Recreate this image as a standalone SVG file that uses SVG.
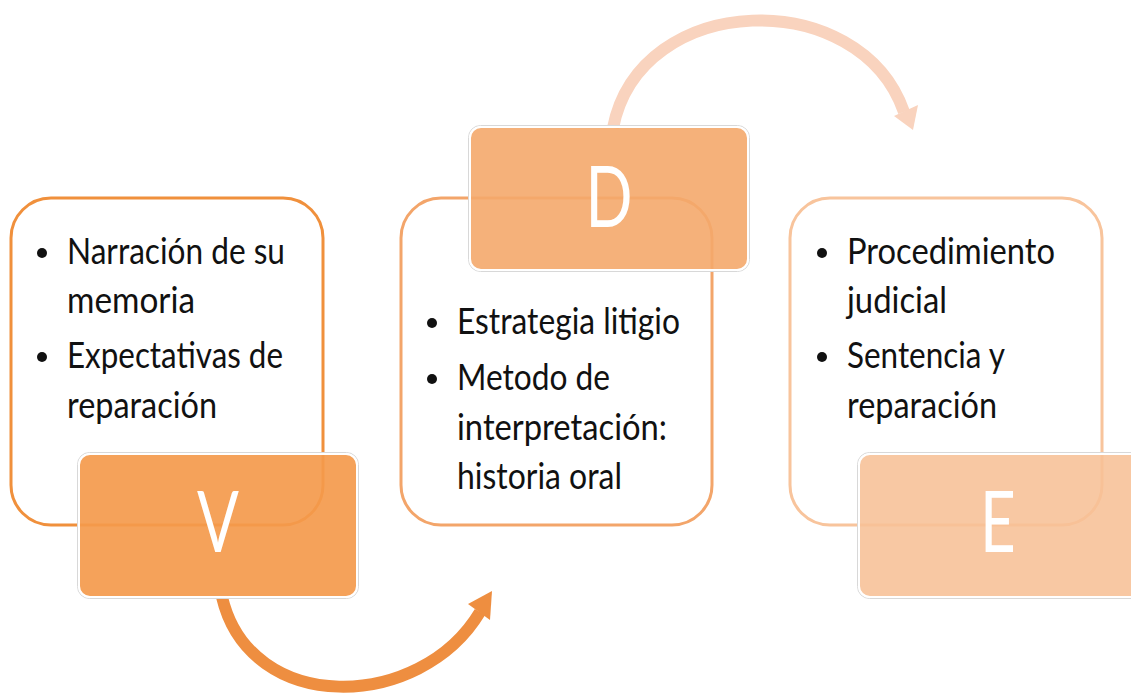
<svg xmlns="http://www.w3.org/2000/svg" width="1131" height="696" viewBox="0 0 1131 696">
<style>
.card{fill:#ffffff;fill-opacity:0.95;stroke-width:3}
.tag{stroke:#ffffff;stroke-width:2}
.tagedge{fill:none;stroke:#d8d8d8;stroke-width:1}
.txt{font-family:Lato,'Open Sans','Liberation Sans',sans-serif;font-size:36px;fill:#111111}
.bul{fill:#111111}
.letter{font-family:Lato,'Open Sans','Liberation Sans',sans-serif;font-size:86px;font-weight:400;fill:#ffffff;text-anchor:middle}
.arr{fill:none;stroke-width:12}
</style>
<rect width="1131" height="696" fill="#ffffff"/>
<g id="connectors">
  <path class="arr" stroke="#EE8E40" d="M222,597 C250,716 420,712 480,612"/>
  <polygon fill="#EE8E40" points="468,604 492,591 490,620"/>
  <path class="arr" stroke="#F9D3BE" d="M613,128 C640,-10 860,-15 904,112"/>
  <polygon fill="#F9D3BE" points="894,116 918,105 913,130"/>
</g>
<g id="node-v">
  <rect class="card" x="11" y="198" width="312" height="327" rx="40" stroke="#F0903C"/>
  <circle class="bul" cx="42" cy="253" r="5"/>
  <text class="txt" x="67" y="264" textLength="218" lengthAdjust="spacingAndGlyphs">Narración de su</text>
  <text class="txt" x="67" y="313" textLength="128" lengthAdjust="spacingAndGlyphs">memoria</text>
  <circle class="bul" cx="42" cy="357" r="5"/>
  <text class="txt" x="67" y="368" textLength="216" lengthAdjust="spacingAndGlyphs">Expectativas de</text>
  <text class="txt" x="67" y="418" textLength="150" lengthAdjust="spacingAndGlyphs">reparación</text>
  <rect class="tagedge" x="77.5" y="452.5" width="281" height="146" rx="12"/>
  <rect class="tag" x="79" y="454" width="278" height="143" rx="11" fill="#F49A4C" fill-opacity="0.92"/>
  <text class="letter" transform="translate(218,552) scale(0.72,1)">V</text>
</g>
<g id="node-d">
  <rect class="card" x="401" y="198" width="311" height="327" rx="40" stroke="#F3A56A"/>
  <circle class="bul" cx="432" cy="323" r="5"/>
  <text class="txt" x="457" y="334" textLength="223" lengthAdjust="spacingAndGlyphs">Estrategia litigio</text>
  <circle class="bul" cx="432" cy="379" r="5"/>
  <text class="txt" x="457" y="390" textLength="153" lengthAdjust="spacingAndGlyphs">Metodo de</text>
  <text class="txt" x="457" y="440" textLength="210" lengthAdjust="spacingAndGlyphs">interpretación:</text>
  <text class="txt" x="457" y="489" textLength="165" lengthAdjust="spacingAndGlyphs">historia oral</text>
  <rect class="tagedge" x="468.5" y="125.5" width="281" height="146" rx="12"/>
  <rect class="tag" x="470" y="127" width="278" height="143" rx="11" fill="#F4A96C" fill-opacity="0.9"/>
  <text class="letter" transform="translate(609,227) scale(0.72,1)">D</text>
</g>
<g id="node-e">
  <rect class="card" x="790" y="198" width="312" height="327" rx="40" stroke="#F8C49C"/>
  <circle class="bul" cx="822" cy="253" r="5"/>
  <text class="txt" x="847" y="264" textLength="208" lengthAdjust="spacingAndGlyphs">Procedimiento</text>
  <text class="txt" x="847" y="313" textLength="100" lengthAdjust="spacingAndGlyphs">judicial</text>
  <circle class="bul" cx="822" cy="357" r="5"/>
  <text class="txt" x="847" y="368" textLength="158" lengthAdjust="spacingAndGlyphs">Sentencia y</text>
  <text class="txt" x="847" y="418" textLength="150" lengthAdjust="spacingAndGlyphs">reparación</text>
  <rect class="tagedge" x="857.5" y="452.5" width="293" height="146" rx="12"/>
  <rect class="tag" x="859" y="454" width="290" height="143" rx="11" fill="#F7C096" fill-opacity="0.88"/>
  <text class="letter" transform="translate(998,552) scale(0.72,1)">E</text>
</g>
</svg>
